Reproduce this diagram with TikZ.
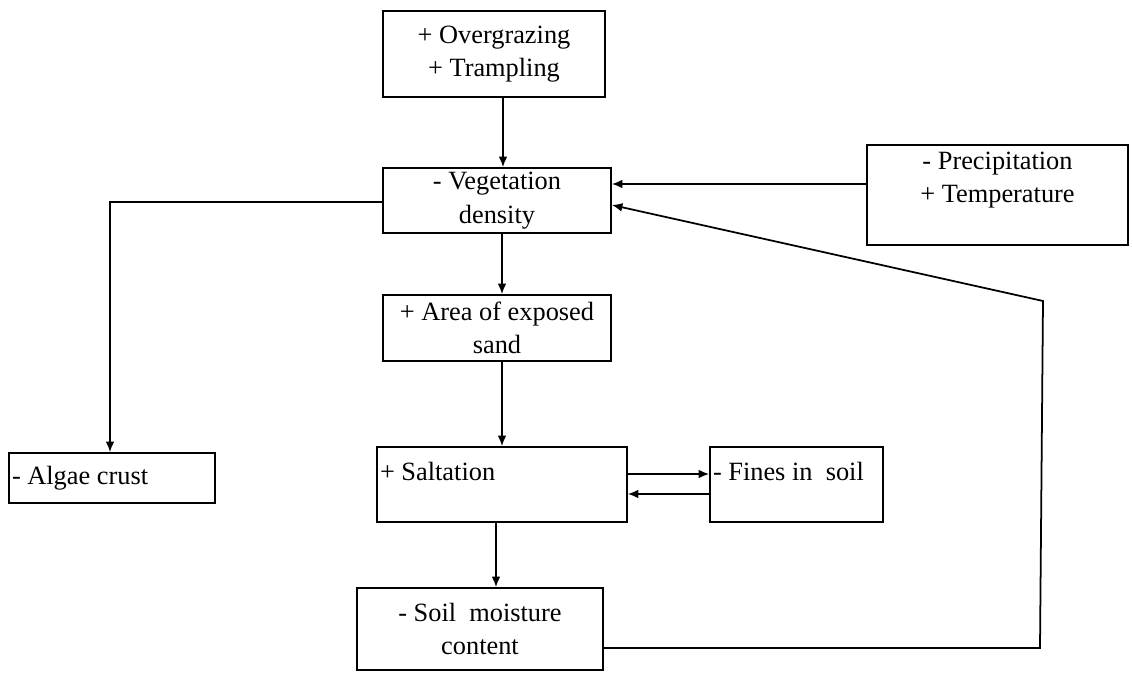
\documentclass[tikz,border=0pt]{standalone}
\usepackage{fontspec}
\setmainfont{Liberation Serif}
\usepackage{tikz}
\usetikzlibrary{arrows.meta}
\tikzstyle{box}=[draw, line width=1pt, inner sep=0pt, align=center]
\tikzstyle{arr}=[-{Latex[length=6pt, width=5pt]}, line width=1pt]

\begin{document}
\begin{tikzpicture}[x=0.02cm, y=-0.02cm, font=\fontsize{15}{19}\selectfont]
        \useasboundingbox (0,0) rectangle (1133,675);
        \node[box, minimum width=4.44cm, minimum height=1.72cm] (graze) at (494, 54) {+ Overgrazing\\+ Trampling};
        \node[box, minimum width=4.56cm, minimum height=1.30cm] (veg) at (497, 200.5) {- Vegetation\\density};
        \node[box, minimum width=5.22cm, minimum height=2.0cm, label={[align=center, yshift=0.3cm]center:- Precipitation\\+ Temperature}] (precip) at (997.5, 195) {};
        \node[box, minimum width=4.56cm, minimum height=1.32cm] (area) at (497, 328) {+ Area of exposed\\sand};
        \node[box, minimum width=4.12cm, minimum height=1.0cm, label={[anchor=west, inner sep=2pt]west:- Algae crust}] (algae) at (112, 478) {};
        \node[box, minimum width=5.0cm, minimum height=1.5cm, label={[anchor=west, inner sep=2pt, yshift=-0.5cm]north west:+ Saltation}] (salt) at (502, 484.5) {};
        \node[box, minimum width=3.46cm, minimum height=1.5cm, label={[anchor=west, inner sep=2pt, yshift=-0.5cm]north west:- Fines in\ \ soil}] (fines) at (796.5, 484.5) {};
        \node[box, minimum width=4.92cm, minimum height=1.64cm] (soil) at (480, 629) {- Soil\ \ moisture\\content};
        % feedback corners
        \coordinate (lowturn) at (1040, 648);
        \coordinate (highturn) at (1043, 301);
        \draw[arr] (graze.south -| 503,0) -- (veg.north -| 503,0);
        \draw[arr] (precip.west |- 0,184) -- (veg.east |- 0,184);
        \draw[arr] (veg.west |- 0,202) -| (algae.north -| 110,0);
        \draw[arr] (veg.south -| 502,0) -- (area.north -| 502,0);
        \draw[arr] (area.south -| 502,0) -- (salt.north -| 502,0);
        \draw[arr] (salt.east |- 0,474) -- (fines.west |- 0,474);
        \draw[arr] (fines.west |- 0,494) -- (salt.east |- 0,494);
        \draw[arr] (salt.south -| 496,0) -- (soil.north -| 496,0);
        \draw[arr] (soil.east |- 0,648) -- (lowturn) -- (highturn) -- (veg.east |- 0,205);
    \end{tikzpicture}
\end{document}
